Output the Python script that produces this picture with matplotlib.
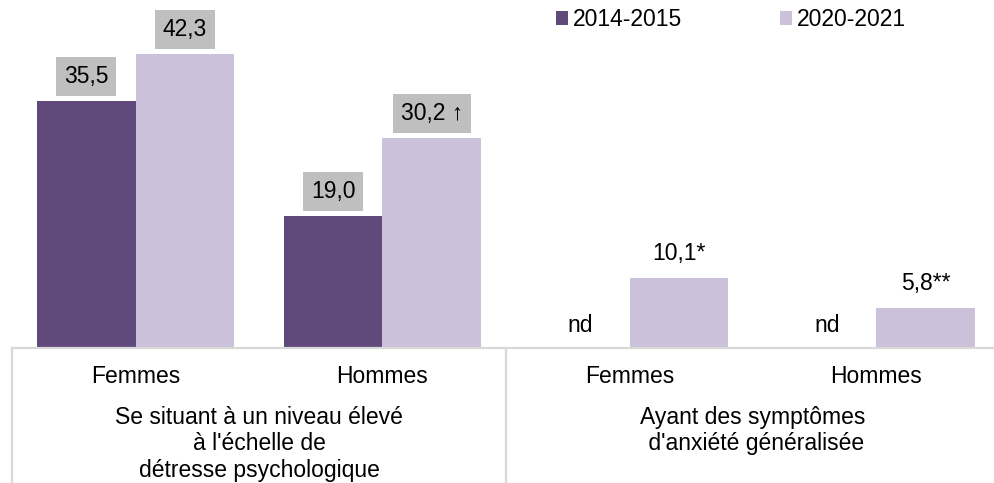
import numpy as np
import matplotlib
matplotlib.use("Agg")
import matplotlib.pyplot as plt
import matplotlib.transforms as mtransforms

plt.rcParams['font.family'] = ['Liberation Sans', 'DejaVu Sans']

# data
categories = ["Femmes", "Hommes", "Femmes", "Hommes"]
group_labels = ["Se situant à un niveau élevé\nà l'échelle de\ndétresse psychologique",
                "Ayant des symptômes\n d'anxiété généralisée"]
series_names = ["2014-2015", "2020-2021"]
vals_2014 = [35.5, 19.0, np.nan, np.nan]
vals_2020 = [42.3, 30.2, 10.1, 5.8]
labels_2014 = ["35,5", "19,0", "nd", "nd"]
labels_2020 = ["42,3", "30,2 \u2191", "10,1*", "5,8**"]
boxed = [True, True, False, False]

dark = "#604a7b"
light = "#ccc1da"
grid_col = "#d9d9d9"
fs = 16.5

fig = plt.figure(figsize=(9.94, 4.83), dpi=100)
ax = fig.add_axes([12 / 994, 135 / 483, 988 / 994, 348 / 483])

x = np.arange(len(categories))
w = 0.4
b1 = ax.bar(x - w / 2, np.nan_to_num(vals_2014), w, color=dark, label=series_names[0])
b2 = ax.bar(x + w / 2, vals_2020, w, color=light, label=series_names[1])

ax.set_xlim(-0.5, 3.5)
ax.set_ylim(0, 50)
ax.axis("off")
ax.axhline(0, color=grid_col, lw=1.6, clip_on=False)

trans = mtransforms.blended_transform_factory(ax.transData, ax.transAxes)
for xs in [-0.5, 1.5, 3.5]:
    ax.plot([xs, xs], [0, -0.4], color=grid_col, lw=1.6, transform=trans, clip_on=False)

box = dict(boxstyle="square,pad=0.35", fc="#bfbfbf", ec="none")
for i in range(len(categories)):
    v1 = vals_2014[i]
    if np.isnan(v1):
        ax.text(x[i] - w / 2, 3.3, labels_2014[i], ha="center", va="center", fontsize=fs)
    else:
        ax.annotate(labels_2014[i], (x[i] - w / 2, v1), xytext=(0, 17.5), textcoords="offset points",
                    ha="center", va="center", fontsize=fs, bbox=box if boxed[i] else None)
    ax.annotate(labels_2020[i], (x[i] + w / 2, vals_2020[i]), xytext=(0, 17.5), textcoords="offset points",
                ha="center", va="center", fontsize=fs, bbox=box if boxed[i] else None)
    ax.text(x[i], -0.083, categories[i], ha="center", va="center", fontsize=fs, transform=trans)

for g, lab in enumerate(group_labels):
    ax.text(2 * g + 0.5, -0.166, lab, ha="center", va="top", fontsize=fs,
            multialignment="center", linespacing=1.2, transform=trans)

fig.legend(handles=[b1, b2], labels=series_names, loc="upper left",
           bbox_to_anchor=(556 / 994, 1 - 8 / 483), ncol=2, frameon=False,
           fontsize=fs, handlelength=0.52, handleheight=0.52, handletextpad=0.2,
           columnspacing=4.3, borderpad=0, borderaxespad=0)

fig.savefig("out.png", dpi=100)
